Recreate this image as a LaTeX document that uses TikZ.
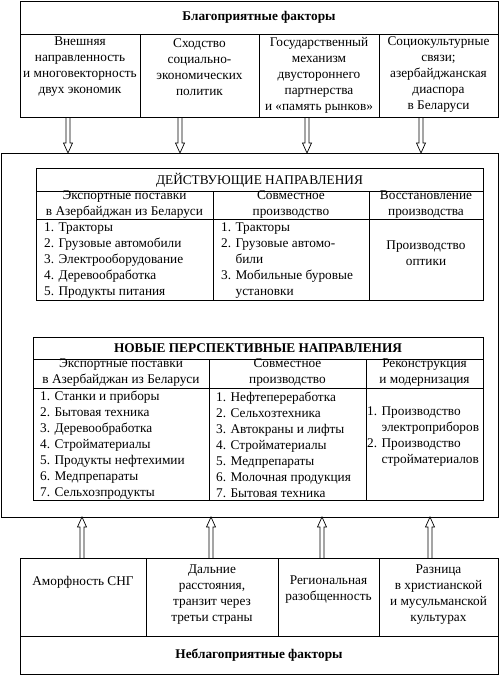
\documentclass[tikz,border=0pt]{standalone}
\usepackage{fontspec}
\setmainfont{Liberation Serif}
\usetikzlibrary{calc}
\newcommand\txtfont{\fontsize{13.3}{16}\selectfont}
\newcommand\arrdown[2]{%
  \draw[harrow] ($(#1)+(-2,0)$) -- ($(#2)+(-2,-10)$) -- ($(#2)+(-4.5,-10)$) -- (#2)
    -- ($(#2)+(4.5,-10)$) -- ($(#2)+(2,-10)$) -- ($(#1)+(2,0)$);}
\newcommand\arrup[2]{%
  \draw[harrow] ($(#1)+(-2,0)$) -- ($(#2)+(-2,10)$) -- ($(#2)+(-4.5,10)$) -- (#2)
    -- ($(#2)+(4.5,10)$) -- ($(#2)+(2,10)$) -- ($(#1)+(2,0)$);}
\begin{document}
\begin{tikzpicture}[x=1pt,y=-1pt,
  frame/.style={draw=black, line width=0.8pt},
  harrow/.style={draw=black, line width=0.7pt, line join=miter},
  txt/.style={inner sep=0pt, align=center, font=\txtfont},
  ltxt/.style={inner sep=0pt, align=left, anchor=west, font=\txtfont},
  btxt/.style={inner sep=0pt, align=center, font=\txtfont\bfseries},
]
\useasboundingbox (0,0) rectangle (500,675);

% ---------- top box: favourable factors ----------
\draw[frame] (20,1) rectangle (498,117);
\draw[frame] (20,34) -- (498,34);
\foreach \xx in {140,259,379} \draw[frame] (\xx,34) -- (\xx,117);
\node[btxt] (fav) at (259,17) {Благоприятные факторы};
\node[txt] (f1) at (80,67) {Внешняя\\направленность\\и многовекторность\\двух экономик};
\node[txt] (f2) at (199.5,67) {Сходство\\социально-\\экономических\\политик};
\node[txt] (f3) at (319,75) {Государственный\\механизм\\двустороннего\\партнерства\\и «память рынков»};
\node[txt] (f4) at (438.5,75) {Социокультурные\\связи;\\азербайджанская\\диаспора\\в Беларуси};

% ---------- main box ----------
\draw[frame] (1,153) rectangle (498,517);

% table 1
\draw[frame] (36,168) rectangle (483,300);
\draw[frame] (36,191) -- (483,191);
\draw[frame] (36,219) -- (483,219);
\foreach \xx in {213,369} \draw[frame] (\xx,191) -- (\xx,300);
\node[txt] (t1) at (259.5,180) {ДЕЙСТВУЮЩИЕ НАПРАВЛЕНИЯ};
\node[txt] (t1h1) at (124.5,205) {Экспортные поставки\\в Азербайджан из Беларуси};
\node[txt] (t1h2) at (291,205) {Совместное\\производство};
\node[txt] (t1h3) at (426,205) {Восстановление\\производства};
\node[ltxt] (t1b1) at (44,261) {1. Тракторы\\2. Грузовые автомобили\\3. Электрооборудование\\4. Деревообработка\\5. Продукты питания};
\node[ltxt] (t1b2) at (221,261) {1. Тракторы\\2. Грузовые автомо-\\\phantom{2. }били\\3. Мобильные буровые\\\phantom{3. }установки};
\node[txt] (t1b3) at (426,253) {Производство\\оптики};

% table 2
\draw[frame] (33,337) rectangle (483,500);
\draw[frame] (33,359) -- (483,359);
\draw[frame] (33,388) -- (483,388);
\foreach \xx in {209,366} \draw[frame] (\xx,359) -- (\xx,500);
\node[btxt] (t2) at (258,348) {НОВЫЕ ПЕРСПЕКТИВНЫЕ НАПРАВЛЕНИЯ};
\node[txt] (t2h1) at (121,373) {Экспортные поставки\\в Азербайджан из Беларуси};
\node[txt] (t2h2) at (287.5,373) {Совместное\\производство};
\node[txt] (t2h3) at (424.5,373) {Реконструкция\\и модернизация};
\node[ltxt] (t2b1) at (40,445) {1. Станки и приборы\\2. Бытовая техника\\3. Деревообработка\\4. Стройматериалы\\5. Продукты нефтехимии\\6. Медпрепараты\\7. Сельхозпродукты};
\node[ltxt] (t2b2) at (216,445) {1. Нефтепереработка\\2. Сельхозтехника\\3. Автокраны и лифты\\4. Стройматериалы\\5. Медпрепараты\\6. Молочная продукция\\7. Бытовая техника};
\node[ltxt] (t2b3) at (367,437) {1. Производство\\\phantom{1. }электроприборов\\2. Производство\\\phantom{2. }стройматериалов};

% ---------- bottom box: unfavourable factors ----------
\draw[frame] (20,558) rectangle (498,674);
\draw[frame] (20,636) -- (498,636);
\foreach \xx in {146,278,379} \draw[frame] (\xx,558) -- (\xx,636);
\node[btxt] (unfav) at (259,655) {Неблагоприятные факторы};
\node[txt] (u1) at (83,582) {Аморфность СНГ};
\node[txt] (u2) at (212,595) {Дальние\\расстояния,\\транзит через\\третьи страны};
\node[txt] (u3) at (328.5,590) {Региональная\\разобщенность};
\node[txt] (u4) at (438.5,595) {Разница\\в христианской\\и мусульманской\\культурах};

% ---------- arrows ----------
\coordinate (a1s) at (68,117);  \coordinate (a1e) at (68,153);
\coordinate (a2s) at (180,117); \coordinate (a2e) at (180,153);
\coordinate (a3s) at (307,117); \coordinate (a3e) at (307,153);
\coordinate (a4s) at (421,117); \coordinate (a4e) at (421,153);
\arrdown{a1s}{a1e}\arrdown{a2s}{a2e}\arrdown{a3s}{a3e}\arrdown{a4s}{a4e}

\coordinate (b1s) at (82,558);  \coordinate (b1e) at (82,517);
\coordinate (b2s) at (211,558); \coordinate (b2e) at (211,517);
\coordinate (b3s) at (322,558); \coordinate (b3e) at (322,517);
\coordinate (b4s) at (430,558); \coordinate (b4e) at (430,517);
\arrup{b1s}{b1e}\arrup{b2s}{b2e}\arrup{b3s}{b3e}\arrup{b4s}{b4e}
\end{tikzpicture}
\end{document}
